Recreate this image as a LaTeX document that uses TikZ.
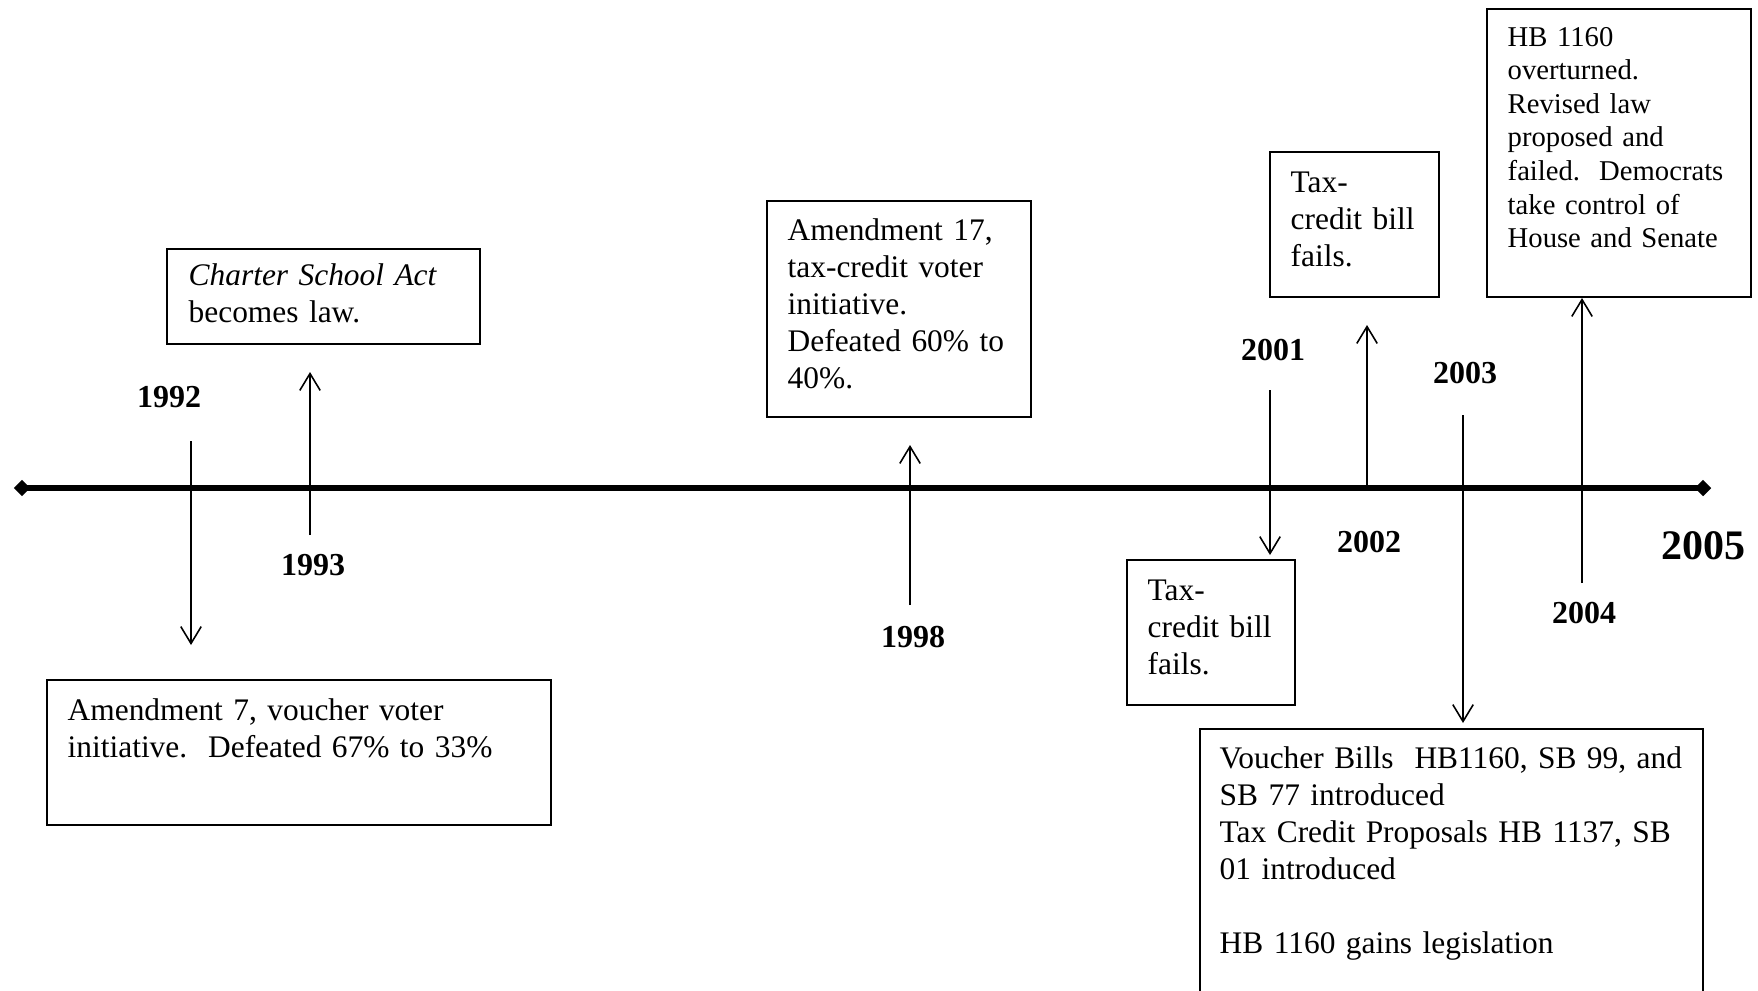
\documentclass[tikz,border=0pt]{standalone}
\usepackage{fontspec}
\setmainfont{Liberation Serif}
\usetikzlibrary{arrows.meta,shapes.geometric}
\frenchspacing
\begin{document}
\begin{tikzpicture}[x=0.01cm,y=-0.01cm,
  evbox/.style={draw,line width=0.6pt,inner sep=0,anchor=north west},
  evtext/.style={anchor=base west,inner sep=0,text width=6cm,align=left,font=\fontsize{8.93}{10.53}\selectfont},
  smalltext/.style={font=\fontsize{8.15}{9.56}\selectfont},
  yr/.style={font=\fontsize{9.1}{10.5}\selectfont\bfseries,inner sep=0},
  evarrow/.style={line width=0.45pt,-{Straight Barb[length=4.8pt,width=5.8pt]}},
  endmark/.style={diamond,fill,inner sep=0,minimum width=0.17cm,minimum height=0.17cm}]
\useasboundingbox (0,0) rectangle (1758,990);
\clip (0,0) rectangle (1758,990);

% timeline
\node[endmark] (L) at (22,488) {};
\node[endmark] (R) at (1703,488) {};
\draw[line width=1.7pt] (L.center) -- (R.center);

% boxes
\node[evbox,minimum width=3.13cm,minimum height=0.95cm] (charter) at (166,248) {};
\node[evtext] (charterT) at (188,285) {\textit{Charter School Act}\\becomes law.};

\node[evbox,minimum width=5.04cm,minimum height=1.45cm] (amseven) at (46,679) {};
\node[evtext] (amsevenT) at (67,720) {Amendment 7, voucher voter\\initiative.~ Defeated 67\% to 33\%};

\node[evbox,minimum width=2.64cm,minimum height=2.16cm] (amseventeen) at (766,200) {};
\node[evtext] (amseventeenT) at (787,240) {Amendment 17,\\tax-credit voter\\initiative.\\Defeated 60\% to\\40\%.};

\node[evbox,minimum width=1.68cm,minimum height=1.45cm] (taxa) at (1126,559) {};
\node[evtext] (taxaT) at (1147,600) {Tax-\\credit bill\\fails.};

\node[evbox,minimum width=1.69cm,minimum height=1.45cm] (taxb) at (1269,151) {};
\node[evtext] (taxbT) at (1290,192) {Tax-\\credit bill\\fails.};

\node[evbox,minimum width=2.64cm,minimum height=2.88cm] (hbtop) at (1486,8) {};
\node[evtext,smalltext] (hbtopT) at (1507,46) {HB 1160\\overturned.\\Revised law\\proposed and\\failed.~ Democrats\\take control of\\House and Senate};

\node[evbox,minimum width=5.03cm,minimum height=3.2cm] (bills) at (1199,728) {};
\node[evtext] (billsT) at (1219,768) {Voucher Bills~ HB1160, SB 99, and\\SB 77 introduced\\Tax Credit Proposals HB 1137, SB\\01 introduced\\\mbox{}\\HB 1160 gains legislation};

% year labels
\node[yr] (y92) at (169,397) {1992};
\node[yr] (y93) at (313,565) {1993};
\node[yr] (y98) at (913,637) {1998};
\node[yr] (y01) at (1273,350) {2001};
\node[yr] (y02) at (1369,542) {2002};
\node[yr] (y03) at (1465,373) {2003};
\node[yr] (y04) at (1584,613) {2004};
\node[yr,font=\fontsize{11.95}{13}\selectfont\bfseries] (y05) at (1703,546) {2005};

% arrows
\coordinate (a92s) at (191,441); \coordinate (a92e) at (191,645);
\coordinate (a93s) at (310,535); \coordinate (a93e) at (310,372);
\coordinate (a98s) at (910,605); \coordinate (a98e) at (910,445);
\coordinate (a01s) at (1270,390); \coordinate (a01e) at (1270,555);
\coordinate (a02s) at (1367,488); \coordinate (a02e) at (1367,325);
\coordinate (a03s) at (1463,415); \coordinate (a03e) at (1463,723);
\coordinate (a04s) at (1582,583); \coordinate (a04e) at (1582,298);
\draw[evarrow] (a92s) -- (a92e);
\draw[evarrow] (a93s) -- (a93e);
\draw[evarrow] (a98s) -- (a98e);
\draw[evarrow] (a01s) -- (a01e);
\draw[evarrow] (a02s) -- (a02e);
\draw[evarrow] (a03s) -- (a03e);
\draw[evarrow] (a04s) -- (a04e);
\end{tikzpicture}
\end{document}
